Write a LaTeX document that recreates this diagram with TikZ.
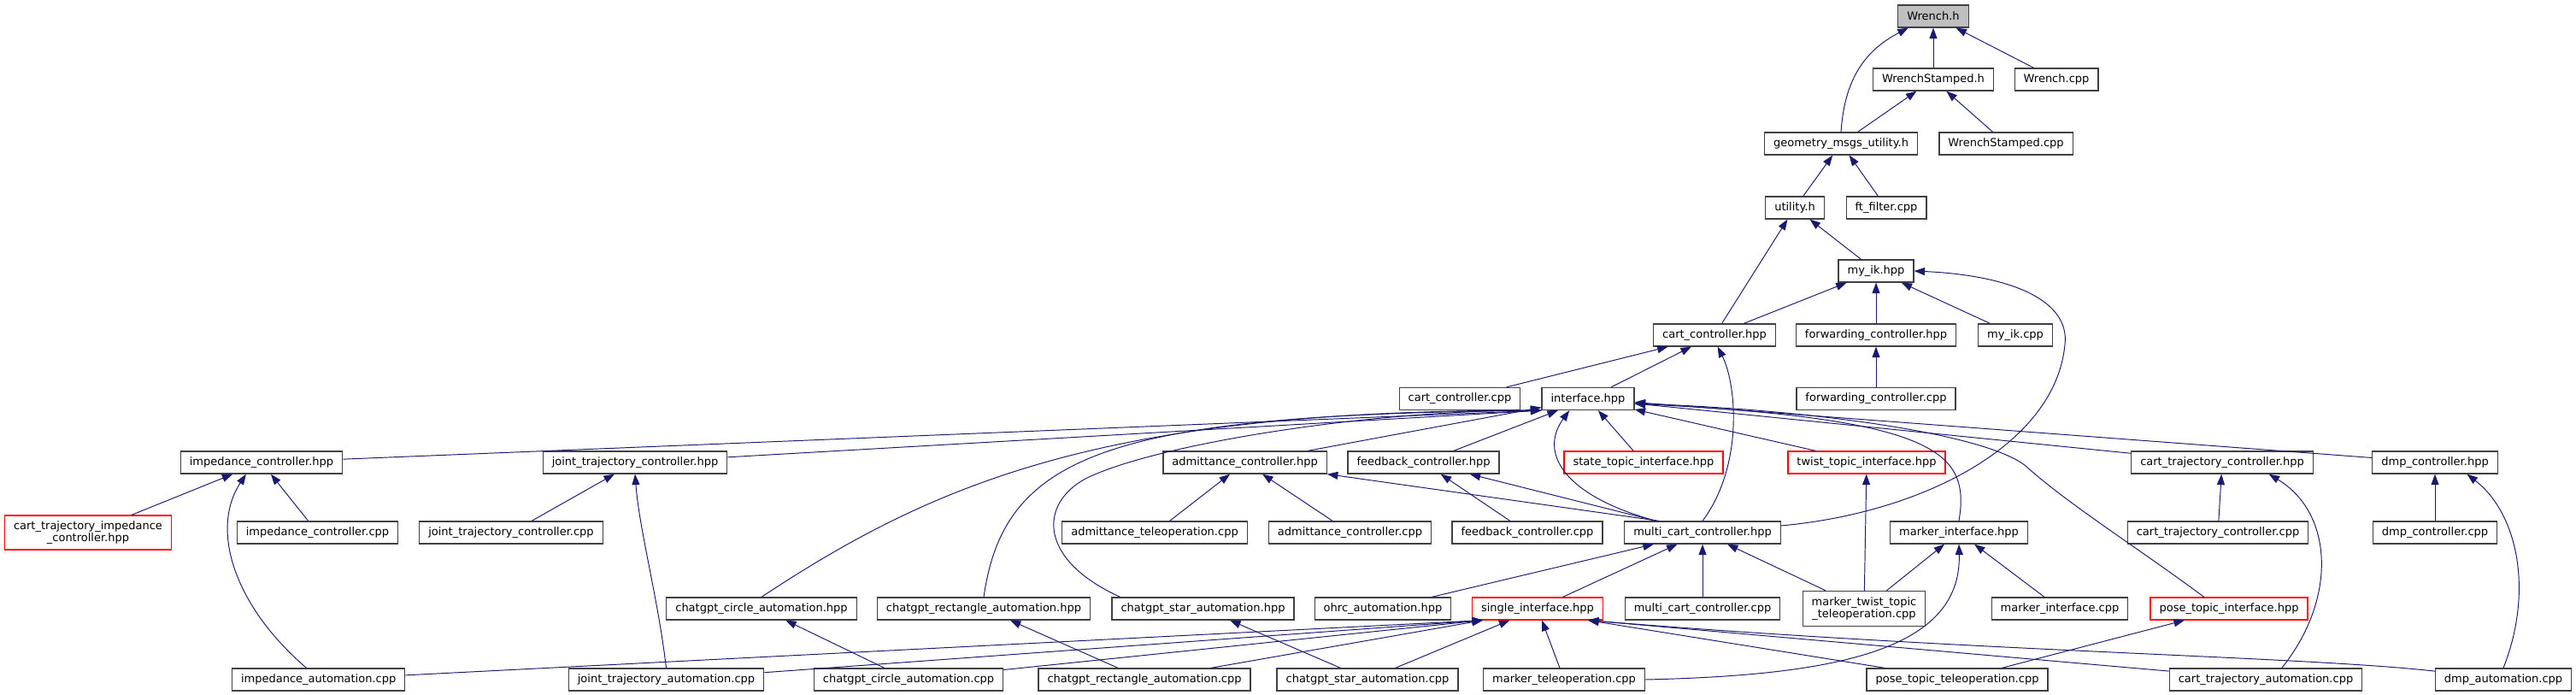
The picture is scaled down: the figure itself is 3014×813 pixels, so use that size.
\documentclass[tikz,border=0pt]{standalone}
\usepackage{fontspec}
\setmainfont{DejaVu Sans}
\usepackage{tikz}
\usetikzlibrary{arrows.meta}
\definecolor{edgeColor}{HTML}{191970}
\definecolor{borderColor}{HTML}{404040}
\definecolor{rootFill}{HTML}{BFBFBF}
\definecolor{truncColor}{HTML}{FF0000}
\tikzset{
  fileNode/.style={draw=borderColor, line width=0.7pt, fill=white, inner xsep=0.21cm, inner ysep=0pt,
    minimum height=0.52cm, align=center, font=\fontsize{7.4}{8.3}\selectfont},
  truncNode/.style={fileNode, draw=truncColor},
  rootNode/.style={fileNode, fill=rootFill},
  inclEdge/.style={draw=edgeColor, line width=0.55pt, -{Triangle[length=0.25cm, width=0.18cm]}}
}

\begin{document}
\begin{tikzpicture}[x=0.02cm, y=-0.02cm]
    \useasboundingbox (0,0) rectangle (3014,813);
    \node[rootNode] (wrenchh) at (2262,19) {Wrench.h};
    \node[fileNode] (wrenchsth) at (2262,93) {WrenchStamped.h};
    \node[fileNode] (wrenchcpp) at (2406,93) {Wrench.cpp};
    \node[fileNode] (geomutil) at (2154,168) {geometry\_msgs\_utility.h};
    \node[fileNode] (wrenchstcpp) at (2347,168) {WrenchStamped.cpp};
    \node[fileNode] (utilityh) at (2100,243) {utility.h};
    \node[fileNode] (ftfilter) at (2207,243) {ft\_filter.cpp};
    \node[fileNode] (myikhpp) at (2195,317) {my\_ik.hpp};
    \node[fileNode] (cartctrlhpp) at (2006,392) {cart\_controller.hpp};
    \node[fileNode] (fwdctrlhpp) at (2195,392) {forwarding\_controller.hpp};
    \node[fileNode] (myikcpp) at (2358,392) {my\_ik.cpp};
    \node[fileNode] (cartctrlcpp) at (1708,466.5) {cart\_controller.cpp};
    \node[fileNode] (ifacehpp) at (1858,466.5) {interface.hpp};
    \node[fileNode] (fwdctrlcpp) at (2195,466.5) {forwarding\_controller.cpp};
    \node[fileNode] (impctrlhpp) at (306,541) {impedance\_controller.hpp};
    \node[fileNode] (jtctrlhpp) at (743,541) {joint\_trajectory\_controller.hpp};
    \node[fileNode] (admctrlhpp) at (1456.6,541) {admittance\_controller.hpp};
    \node[fileNode] (fbctrlhpp) at (1665.5,541) {feedback\_controller.hpp};
    \node[truncNode] (statetopic) at (1923,541) {state\_topic\_interface.hpp};
    \node[truncNode] (twisttopic) at (2184,541) {twist\_topic\_interface.hpp};
    \node[fileNode] (ctctrlhpp) at (2600,541) {cart\_trajectory\_controller.hpp};
    \node[fileNode] (dmpctrlhpp) at (2849,541) {dmp\_controller.hpp};
    \node[truncNode, minimum height=0.8cm] (ctimpctrl) at (103,623) {cart\_trajectory\_impedance\\\_controller.hpp};
    \node[fileNode] (impctrlcpp) at (371.5,623) {impedance\_controller.cpp};
    \node[fileNode] (jtctrlcpp) at (598,623) {joint\_trajectory\_controller.cpp};
    \node[fileNode] (admteleop) at (1351,623) {admittance\_teleoperation.cpp};
    \node[fileNode] (admctrlcpp) at (1579.5,623) {admittance\_controller.cpp};
    \node[fileNode] (fbctrlcpp) at (1787,623) {feedback\_controller.cpp};
    \node[fileNode] (multicarthpp) at (1992,623) {multi\_cart\_controller.hpp};
    \node[fileNode] (markerifhpp) at (2292,623) {marker\_interface.hpp};
    \node[fileNode] (ctctrlcpp) at (2595,623) {cart\_trajectory\_controller.cpp};
    \node[fileNode] (dmpctrlcpp) at (2849,623) {dmp\_controller.cpp};
    \node[fileNode] (gptcirchpp) at (891,712) {chatgpt\_circle\_automation.hpp};
    \node[fileNode] (gptrecthpp) at (1151,712) {chatgpt\_rectangle\_automation.hpp};
    \node[fileNode] (gptstarhpp) at (1407.5,712) {chatgpt\_star\_automation.hpp};
    \node[fileNode] (ohrchpp) at (1618,712) {ohrc\_automation.hpp};
    \node[truncNode] (singleif) at (1799,712) {single\_interface.hpp};
    \node[fileNode] (multicartcpp) at (1992,712) {multi\_cart\_controller.cpp};
    \node[fileNode, minimum height=0.82cm] (markertwist) at (2181,712) {marker\_twist\_topic\\\_teleoperation.cpp};
    \node[fileNode] (markerifcpp) at (2410,712) {marker\_interface.cpp};
    \node[truncNode] (posetopic) at (2608,712) {pose\_topic\_interface.hpp};
    \node[fileNode] (impautocpp) at (372.7,795) {impedance\_automation.cpp};
    \node[fileNode] (jtautocpp) at (779.5,795) {joint\_trajectory\_automation.cpp};
    \node[fileNode] (gptcirccpp) at (1063,795) {chatgpt\_circle\_automation.cpp};
    \node[fileNode] (gptrectcpp) at (1339,795) {chatgpt\_rectangle\_automation.cpp};
    \node[fileNode] (gptstarcpp) at (1600,795) {chatgpt\_star\_automation.cpp};
    \node[fileNode] (markerteleop) at (1830,795) {marker\_teleoperation.cpp};
    \node[fileNode] (poseteleop) at (2290,795) {pose\_topic\_teleoperation.cpp};
    \node[fileNode] (ctautocpp) at (2651,795) {cart\_trajectory\_automation.cpp};
    \node[fileNode] (dmpautocpp) at (2929,795) {dmp\_automation.cpp};
    \foreach \a/\b in {wrenchsth/wrenchh, wrenchcpp/wrenchh, geomutil/wrenchsth, wrenchstcpp/wrenchsth,
        utilityh/geomutil, ftfilter/geomutil, cartctrlhpp/utilityh, myikhpp/utilityh, cartctrlhpp/myikhpp,
        fwdctrlhpp/myikhpp, myikcpp/myikhpp, fwdctrlcpp/fwdctrlhpp, cartctrlcpp/cartctrlhpp, ifacehpp/cartctrlhpp,
        admctrlhpp/ifacehpp, fbctrlhpp/ifacehpp, statetopic/ifacehpp, twisttopic/ifacehpp, ctctrlhpp/ifacehpp,
        dmpctrlhpp/ifacehpp, ctimpctrl/impctrlhpp, impctrlcpp/impctrlhpp, jtctrlcpp/jtctrlhpp,
        admteleop/admctrlhpp, admctrlcpp/admctrlhpp, fbctrlcpp/fbctrlhpp, multicarthpp/fbctrlhpp,
        ohrchpp/multicarthpp, singleif/multicarthpp, multicartcpp/multicarthpp, markertwist/multicarthpp,
        markertwist/twisttopic, markertwist/markerifhpp, markerifcpp/markerifhpp, ctctrlcpp/ctctrlhpp,
        dmpctrlcpp/dmpctrlhpp, poseteleop/posetopic, gptcirccpp/gptcirchpp, gptrectcpp/gptrecthpp,
        gptstarcpp/gptstarhpp, gptstarcpp/singleif, markerteleop/singleif}
        \draw[inclEdge] (\a) -- (\b);
    \foreach \a in {impctrlhpp, jtctrlhpp}
        \draw[inclEdge] (\a) -- (ifacehpp.south west);
    \foreach \a in {impautocpp, jtautocpp, gptcirccpp, gptrectcpp}
        \draw[inclEdge] (\a) -- (singleif.192);
    \draw[inclEdge] (poseteleop) -- (singleif.-13);
    \draw[inclEdge] (ctautocpp.175) -- (singleif.-13);
    \draw[inclEdge] (multicarthpp.165) -- (admctrlhpp.south east);
    \draw[inclEdge] (geomutil.north) .. controls (2158,95) and (2180,60) .. (wrenchh.205);
    \draw[inclEdge] (multicarthpp.5) .. controls (2250,600) and (2405,520) .. (2416,403)
        .. controls (2422,350) and (2350,322) .. (myikhpp.east);
    \draw[inclEdge] (multicarthpp.north) .. controls (2040,545) and (2032,450) .. (cartctrlhpp.-75);
    \draw[inclEdge] (multicarthpp.166) .. controls (1830,580) and (1800,530) .. (ifacehpp.212);
    \draw[inclEdge] (gptcirchpp.north) .. controls (1100,560) and (1300,480) .. (ifacehpp.south west);
    \draw[inclEdge] (gptrecthpp.north) .. controls (1175,530) and (1300,485) .. (ifacehpp.south west);
    \draw[inclEdge] (gptstarhpp.172) .. controls (1215,655) and (1215,590) .. (1270,560)
        .. controls (1350,520) and (1600,480) .. (ifacehpp.south west);
    \draw[inclEdge] (markerifhpp.north) .. controls (2305,530) and (2270,490) .. (ifacehpp.-6);
    \draw[inclEdge] (posetopic.155) .. controls (2500,640) and (2420,590) .. (2370,545)
        .. controls (2320,505) and (2100,478) .. (ifacehpp.-6);
    \draw[inclEdge] (impautocpp.136) .. controls (275,710) and (245,620) .. (impctrlhpp.-143);
    \draw[inclEdge] (jtautocpp.north) .. controls (770,700) and (748,620) .. (jtctrlhpp.south);
    \draw[inclEdge] (markerteleop.east) .. controls (2150,790) and (2295,760) .. (markerifhpp.south);
    \draw[inclEdge] (ctautocpp.36) .. controls (2735,700) and (2730,600) .. (ctctrlhpp.-14);
    \draw[inclEdge] (dmpautocpp.north) .. controls (2965,690) and (2945,600) .. (dmpctrlhpp.-20);
    \draw[inclEdge] (dmpautocpp.173) .. controls (2700,768) and (2300,762) .. (singleif.-13);
\end{tikzpicture}
\end{document}
